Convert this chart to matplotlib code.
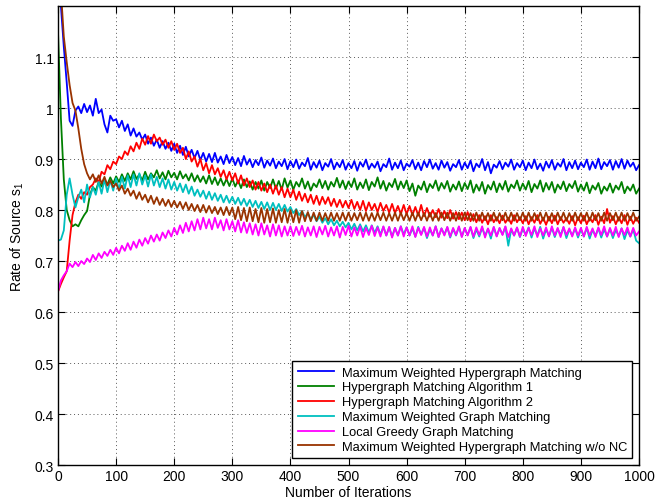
import numpy as np
import matplotlib
matplotlib.use('Agg')
import matplotlib.pyplot as plt

plt.rcParams['font.family'] = ['Liberation Sans', 'DejaVu Sans']
plt.rcParams['mathtext.fontset'] = 'custom'
plt.rcParams['mathtext.rm'] = 'Liberation Sans'
plt.rcParams['mathtext.it'] = 'Liberation Sans:italic'

# iteration grid (every 5 iterations)
iterations = np.arange(0, 1001, 5)

labels = ['Maximum Weighted Hypergraph Matching',
          'Hypergraph Matching Algorithm 1',
          'Hypergraph Matching Algorithm 2',
          'Maximum Weighted Graph Matching',
          'Local Greedy Graph Matching',
          'Maximum Weighted Hypergraph Matching w/o NC']

mwhm = [
    1.30, 1.20, 1.12, 1.05, 0.975, 0.965, 0.995, 1.003, 0.99, 1.008, 0.992, 1.005, 0.985, 1.018, 0.99, 0.997, 0.968, 0.952, 0.985, 0.975,
    0.978, 0.962, 0.975, 0.955, 0.968, 0.946, 0.96, 0.944, 0.952, 0.938, 0.948, 0.93, 0.942, 0.926, 0.938, 0.922, 0.935, 0.92, 0.932, 0.916,
    0.93, 0.912, 0.926, 0.908, 0.924, 0.905, 0.918, 0.902, 0.916, 0.898, 0.912, 0.895, 0.91, 0.894, 0.912, 0.893, 0.905, 0.89, 0.908, 0.892,
    0.904, 0.888, 0.902, 0.886, 0.906, 0.889, 0.9, 0.884, 0.898, 0.888, 0.903, 0.883, 0.897, 0.887, 0.901, 0.882, 0.895, 0.886, 0.9, 0.88,
    0.896, 0.884, 0.899, 0.881, 0.893, 0.886, 0.902, 0.879, 0.894, 0.883, 0.897, 0.878, 0.892, 0.885, 0.9, 0.88, 0.893, 0.884, 0.898, 0.879,
    0.892, 0.882, 0.896, 0.877, 0.894, 0.885, 0.899, 0.88, 0.891, 0.883, 0.895, 0.876, 0.89, 0.884, 0.901, 0.879, 0.893, 0.882, 0.897, 0.878,
    0.891, 0.885, 0.898, 0.88, 0.893, 0.878, 0.896, 0.884, 0.899, 0.881, 0.892, 0.879, 0.897, 0.883, 0.894, 0.877, 0.89, 0.884, 0.898, 0.879,
    0.893, 0.882, 0.897, 0.876, 0.891, 0.884, 0.9, 0.878, 0.894, 0.872, 0.889, 0.883, 0.896, 0.88, 0.893, 0.885, 0.899, 0.879, 0.892, 0.884,
    0.897, 0.878, 0.893, 0.882, 0.899, 0.88, 0.891, 0.877, 0.895, 0.883, 0.898, 0.879, 0.892, 0.885, 0.9, 0.878, 0.894, 0.882, 0.897, 0.88,
    0.893, 0.884, 0.899, 0.879, 0.895, 0.882, 0.901, 0.88, 0.894, 0.886, 0.898, 0.879, 0.896, 0.883, 0.9, 0.881, 0.897, 0.885, 0.893, 0.878,
    0.888]

hma1 = [
    1.15, 0.98, 0.86, 0.80, 0.78, 0.768, 0.772, 0.768, 0.78, 0.79, 0.798, 0.83, 0.845, 0.838, 0.855, 0.846, 0.86, 0.85, 0.864, 0.852,
    0.866, 0.855, 0.87, 0.857, 0.872, 0.86, 0.876, 0.861, 0.87, 0.858, 0.875, 0.86, 0.872, 0.864, 0.878, 0.862, 0.874, 0.86, 0.877, 0.864,
    0.873, 0.86, 0.876, 0.862, 0.87, 0.858, 0.872, 0.856, 0.868, 0.855, 0.866, 0.852, 0.868, 0.851, 0.864, 0.849, 0.862, 0.848, 0.861, 0.847,
    0.862, 0.846, 0.858, 0.843, 0.86, 0.845, 0.856, 0.84, 0.855, 0.842, 0.858, 0.838, 0.855, 0.843, 0.86, 0.842, 0.857, 0.84, 0.862, 0.844,
    0.858, 0.84, 0.855, 0.846, 0.862, 0.842, 0.856, 0.838, 0.852, 0.845, 0.86, 0.843, 0.857, 0.84, 0.855, 0.846, 0.863, 0.844, 0.858, 0.841,
    0.856, 0.845, 0.862, 0.84, 0.854, 0.843, 0.86, 0.839, 0.855, 0.846, 0.864, 0.842, 0.857, 0.838, 0.853, 0.845, 0.861, 0.84, 0.856, 0.843,
    0.858, 0.837, 0.852, 0.828, 0.848, 0.84, 0.856, 0.835, 0.851, 0.843, 0.858, 0.838, 0.853, 0.842, 0.857, 0.836, 0.85, 0.84, 0.856, 0.837,
    0.853, 0.841, 0.858, 0.834, 0.85, 0.838, 0.855, 0.832, 0.849, 0.84, 0.856, 0.835, 0.852, 0.84, 0.857, 0.836, 0.85, 0.843, 0.858, 0.838,
    0.852, 0.84, 0.857, 0.835, 0.851, 0.842, 0.858, 0.836, 0.853, 0.84, 0.855, 0.834, 0.85, 0.841, 0.856, 0.837, 0.851, 0.843, 0.857, 0.836,
    0.85, 0.838, 0.854, 0.833, 0.848, 0.84, 0.853, 0.832, 0.846, 0.838, 0.852, 0.834, 0.848, 0.84, 0.855, 0.833, 0.846, 0.838, 0.85, 0.832,
    0.842]

hma2 = [
    0.64, 0.655, 0.668, 0.68, 0.74, 0.79, 0.815, 0.83, 0.822, 0.835, 0.83, 0.845, 0.85, 0.862, 0.855, 0.875, 0.87, 0.888, 0.88, 0.895,
    0.89, 0.905, 0.9, 0.915, 0.908, 0.925, 0.915, 0.932, 0.92, 0.94, 0.928, 0.945, 0.93, 0.948, 0.935, 0.942, 0.928, 0.938, 0.922, 0.935,
    0.918, 0.93, 0.912, 0.922, 0.9, 0.915, 0.895, 0.905, 0.885, 0.9, 0.878, 0.892, 0.872, 0.888, 0.87, 0.882, 0.865, 0.878, 0.86, 0.875,
    0.858, 0.872, 0.852, 0.868, 0.848, 0.862, 0.845, 0.858, 0.84, 0.855, 0.838, 0.852, 0.835, 0.85, 0.832, 0.848, 0.83, 0.845, 0.825, 0.842,
    0.825, 0.84, 0.82, 0.836, 0.818, 0.832, 0.815, 0.83, 0.812, 0.828, 0.81, 0.826, 0.812, 0.825, 0.808, 0.822, 0.806, 0.82, 0.805, 0.818,
    0.804, 0.82, 0.802, 0.816, 0.8, 0.818, 0.798, 0.815, 0.8, 0.812, 0.796, 0.814, 0.798, 0.81, 0.795, 0.812, 0.794, 0.808, 0.792, 0.81,
    0.792, 0.808, 0.79, 0.806, 0.789, 0.81, 0.788, 0.804, 0.787, 0.8, 0.786, 0.802, 0.785, 0.798, 0.784, 0.8, 0.783, 0.796, 0.782, 0.795,
    0.78, 0.796, 0.778, 0.792, 0.776, 0.79, 0.775, 0.788, 0.772, 0.79, 0.776, 0.786, 0.774, 0.789, 0.775, 0.785, 0.773, 0.79, 0.776, 0.786,
    0.774, 0.788, 0.772, 0.786, 0.775, 0.79, 0.773, 0.785, 0.771, 0.787, 0.774, 0.789, 0.772, 0.786, 0.775, 0.784, 0.773, 0.788, 0.77, 0.786,
    0.774, 0.789, 0.772, 0.785, 0.776, 0.79, 0.771, 0.787, 0.774, 0.802, 0.775, 0.788, 0.772, 0.786, 0.774, 0.79, 0.771, 0.787, 0.773, 0.785,
    0.775]

mwgm = [
    0.74, 0.742, 0.76, 0.83, 0.862, 0.83, 0.805, 0.825, 0.84, 0.815, 0.85, 0.825, 0.845, 0.83, 0.855, 0.832, 0.86, 0.835, 0.858, 0.838,
    0.862, 0.84, 0.865, 0.842, 0.868, 0.845, 0.87, 0.848, 0.872, 0.85, 0.868, 0.846, 0.87, 0.848, 0.865, 0.845, 0.862, 0.842, 0.86, 0.84,
    0.855, 0.838, 0.852, 0.835, 0.85, 0.832, 0.846, 0.828, 0.84, 0.826, 0.838, 0.822, 0.836, 0.82, 0.833, 0.818, 0.83, 0.815, 0.828, 0.814,
    0.826, 0.812, 0.824, 0.81, 0.822, 0.808, 0.82, 0.806, 0.818, 0.804, 0.816, 0.802, 0.815, 0.8, 0.814, 0.8, 0.812, 0.798, 0.81, 0.797,
    0.806, 0.794, 0.802, 0.79, 0.798, 0.786, 0.794, 0.782, 0.79, 0.778, 0.787, 0.775, 0.784, 0.772, 0.782, 0.77, 0.779, 0.768, 0.777, 0.766,
    0.775, 0.762, 0.773, 0.76, 0.772, 0.758, 0.77, 0.756, 0.77, 0.755, 0.768, 0.752, 0.767, 0.75, 0.766, 0.748, 0.765, 0.75, 0.768, 0.752,
    0.766, 0.75, 0.764, 0.748, 0.767, 0.752, 0.765, 0.745, 0.762, 0.75, 0.768, 0.747, 0.764, 0.752, 0.766, 0.746, 0.763, 0.75, 0.767, 0.748,
    0.764, 0.751, 0.766, 0.745, 0.762, 0.748, 0.765, 0.75, 0.763, 0.744, 0.766, 0.749, 0.764, 0.752, 0.767, 0.73, 0.762, 0.75, 0.765, 0.747,
    0.763, 0.752, 0.766, 0.746, 0.764, 0.75, 0.767, 0.744, 0.762, 0.749, 0.765, 0.747, 0.763, 0.751, 0.766, 0.745, 0.762, 0.75, 0.764, 0.746,
    0.762, 0.748, 0.765, 0.744, 0.761, 0.75, 0.764, 0.746, 0.762, 0.748, 0.763, 0.745, 0.761, 0.749, 0.764, 0.743, 0.76, 0.748, 0.762, 0.74,
    0.735]

lggm = [
    0.64, 0.662, 0.672, 0.68, 0.695, 0.688, 0.698, 0.69, 0.7, 0.694, 0.705, 0.698, 0.712, 0.702, 0.715, 0.706, 0.718, 0.71, 0.722, 0.712,
    0.726, 0.715, 0.73, 0.72, 0.735, 0.722, 0.738, 0.726, 0.742, 0.73, 0.745, 0.734, 0.75, 0.738, 0.752, 0.74, 0.756, 0.745, 0.76, 0.748,
    0.765, 0.752, 0.77, 0.755, 0.775, 0.758, 0.778, 0.76, 0.782, 0.762, 0.785, 0.764, 0.782, 0.762, 0.785, 0.765, 0.78, 0.76, 0.782, 0.762,
    0.778, 0.758, 0.78, 0.756, 0.776, 0.755, 0.774, 0.752, 0.772, 0.75, 0.774, 0.752, 0.77, 0.748, 0.772, 0.75, 0.77, 0.748, 0.768, 0.75,
    0.768, 0.749, 0.767, 0.751, 0.769, 0.748, 0.766, 0.75, 0.768, 0.747, 0.767, 0.752, 0.769, 0.748, 0.766, 0.75, 0.768, 0.746, 0.767, 0.751,
    0.769, 0.748, 0.766, 0.75, 0.768, 0.747, 0.765, 0.751, 0.769, 0.749, 0.766, 0.748, 0.768, 0.75, 0.767, 0.746, 0.765, 0.75, 0.768, 0.748,
    0.766, 0.75, 0.768, 0.747, 0.765, 0.751, 0.767, 0.748, 0.766, 0.75, 0.768, 0.747, 0.764, 0.75, 0.767, 0.748, 0.765, 0.751, 0.768, 0.747,
    0.765, 0.75, 0.767, 0.748, 0.766, 0.751, 0.768, 0.746, 0.764, 0.75, 0.767, 0.748, 0.765, 0.751, 0.768, 0.747, 0.764, 0.75, 0.766, 0.748,
    0.767, 0.749, 0.765, 0.751, 0.768, 0.747, 0.764, 0.75, 0.766, 0.748, 0.768, 0.75, 0.765, 0.747, 0.767, 0.751, 0.764, 0.748, 0.766, 0.75,
    0.765, 0.748, 0.767, 0.75, 0.764, 0.747, 0.766, 0.751, 0.768, 0.748, 0.765, 0.75, 0.767, 0.747, 0.764, 0.751, 0.766, 0.748, 0.765, 0.75,
    0.758]

mwhm_nonc = [
    1.40, 1.23, 1.14, 1.09, 1.045, 1.01, 0.995, 0.96, 0.92, 0.89, 0.872, 0.86, 0.87, 0.855, 0.868, 0.852, 0.865, 0.848, 0.858, 0.845,
    0.852, 0.838, 0.848, 0.832, 0.842, 0.828, 0.838, 0.822, 0.835, 0.82, 0.83, 0.815, 0.828, 0.812, 0.825, 0.81, 0.822, 0.808, 0.82, 0.806,
    0.818, 0.805, 0.816, 0.802, 0.815, 0.8, 0.812, 0.798, 0.81, 0.796, 0.81, 0.795, 0.808, 0.794, 0.806, 0.792, 0.805, 0.79, 0.806, 0.79,
    0.805, 0.782, 0.806, 0.78, 0.804, 0.778, 0.805, 0.778, 0.802, 0.776, 0.804, 0.775, 0.802, 0.776, 0.803, 0.775, 0.8, 0.776, 0.802, 0.775,
    0.8, 0.776, 0.8, 0.775, 0.798, 0.778, 0.796, 0.778, 0.795, 0.779, 0.795, 0.779, 0.794, 0.779, 0.795, 0.779, 0.794, 0.779, 0.795, 0.779,
    0.795, 0.779, 0.794, 0.78, 0.795, 0.779, 0.795, 0.779, 0.794, 0.779, 0.795, 0.78, 0.795, 0.779, 0.794, 0.779, 0.795, 0.779, 0.795, 0.78,
    0.794, 0.779, 0.795, 0.779, 0.795, 0.78, 0.794, 0.779, 0.795, 0.779, 0.794, 0.779, 0.795, 0.78, 0.795, 0.779, 0.794, 0.779, 0.795, 0.779,
    0.795, 0.78, 0.794, 0.779, 0.795, 0.779, 0.795, 0.78, 0.794, 0.779, 0.795, 0.779, 0.794, 0.78, 0.795, 0.779, 0.795, 0.779, 0.794, 0.78,
    0.795, 0.779, 0.795, 0.779, 0.794, 0.78, 0.795, 0.779, 0.795, 0.779, 0.794, 0.779, 0.795, 0.78, 0.795, 0.779, 0.794, 0.779, 0.795, 0.78,
    0.794, 0.779, 0.795, 0.779, 0.795, 0.78, 0.794, 0.779, 0.795, 0.779, 0.794, 0.78, 0.795, 0.779, 0.795, 0.779, 0.794, 0.78, 0.795, 0.779,
    0.787]

series = [mwhm, hma1, hma2, mwgm, lggm, mwhm_nonc]
colors = ['#0000ff', '#008000', '#ff0000', '#00bfbf', '#ff00ff', '#993300']

xticks = [0, 100, 200, 300, 400, 500, 600, 700, 800, 900, 1000]
yticks = [0.3, 0.4, 0.5, 0.6, 0.7, 0.8, 0.9, 1.0, 1.1]
ytick_labels = ['0.3', '0.4', '0.5', '0.6', '0.7', '0.8', '0.9', '1', '1.1']


def main():
    fig = plt.figure(figsize=(6.69, 5.02), dpi=100)
    ax = fig.add_axes([0.0867, 0.0717, 0.8685, 0.9143])

    for vals, col, lab in zip(series, colors, labels):
        ax.plot(iterations, vals, color=col, lw=1.3, label=lab)

    ax.set_xlim(0, 1000)
    ax.set_ylim(0.3, 1.2)
    ax.set_xticks(xticks)
    ax.set_yticks(yticks)
    ax.set_yticklabels(ytick_labels)
    ax.tick_params(direction='in', length=5, width=0.8, top=True, right=True,
                   labelsize=10, pad=3)
    ax.grid(True, color='0.35', linestyle=(0, (1, 3)), linewidth=0.7)
    for s in ax.spines.values():
        s.set_linewidth(1.0)

    ax.set_xlabel('Number of Iterations', fontsize=10, labelpad=1)
    ax.set_ylabel(r'Rate of Source s$_1$', fontsize=10, labelpad=6)

    leg = ax.legend(loc='lower right', bbox_to_anchor=(0.988, 0.015),
                    borderaxespad=0, fontsize=9.3, frameon=True, fancybox=False,
                    edgecolor='black', framealpha=1, labelspacing=0.22,
                    handlelength=2.8, handletextpad=0.6, borderpad=0.4)
    leg.get_frame().set_linewidth(1.0)
    for h in leg.get_lines():
        h.set_linewidth(1.3)

    fig.savefig('out.png', dpi=100)


if __name__ == '__main__':
    main()
